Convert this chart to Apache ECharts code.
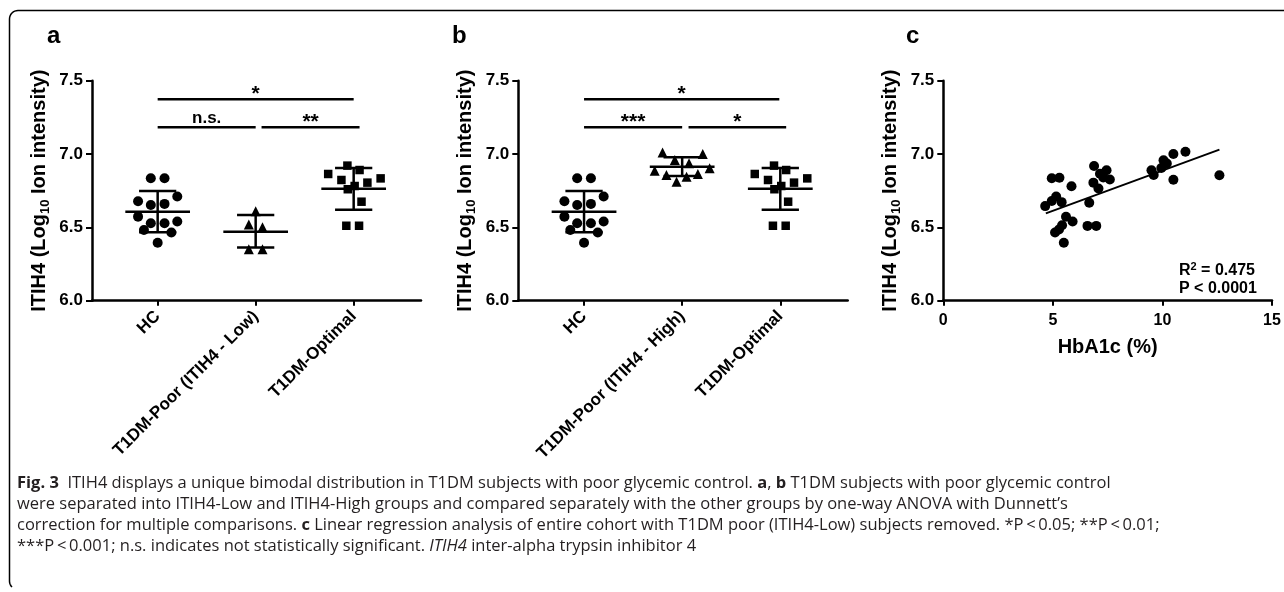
<!DOCTYPE html>
<html><head><meta charset="utf-8">
<script src="https://cdn.jsdelivr.net/npm/echarts@6/dist/echarts.min.js"></script>
<style>html,body{margin:0;padding:0;background:#fff}#c{width:1284px;height:592px}</style>
</head><body><div id="c"></div>
<script>
// ---------- data ----------
const categoriesA = ['HC', 'T1DM-Poor (ITIH4 - Low)', 'T1DM-Optimal'];
const categoriesB = ['HC', 'T1DM-Poor (ITIH4 - High)', 'T1DM-Optimal'];
const yTicks = [6.0, 6.5, 7.0, 7.5];
const xTicksC = [0, 5, 10, 15];

// HC (circles)
const hcValues = [6.835, 6.835, 6.71, 6.678, 6.652, 6.66, 6.573, 6.528, 6.528, 6.54, 6.482, 6.465, 6.395];
const hcJitter = [-0.07, 0.07, 0.2, -0.2, -0.07, 0.07, -0.2, -0.07, 0.07, 0.2, -0.14, 0.14, 0];
// T1DM-Poor ITIH4-Low (triangles)
const lowValues = [6.61, 6.52, 6.50, 6.35, 6.35];
const lowJitter = [0, -0.07, 0.07, -0.07, 0.07];
// T1DM-Poor ITIH4-High (triangles)
const highValues = [7.01, 7.0, 6.959, 6.937, 6.886, 6.903, 6.857, 6.864, 6.845, 6.811];
const highJitter = [-0.2, 0.21, -0.075, 0.07, -0.28, 0.28, -0.16, 0.16, 0.045, -0.057];
// T1DM-Optimal (squares)
const optValues = [6.921, 6.891, 6.864, 6.834, 6.823, 6.805, 6.782, 6.76, 6.675, 6.511, 6.511];
const optJitter = [-0.064, 0.06, -0.26, 0.275, -0.125, 0.14, 0.01, -0.06, 0.08, -0.075, 0.055];

// mean and SD bars
const meanA = [6.607, 6.47, 6.763];
const sdLowA = [6.466, 6.362, 6.62];
const sdHighA = [6.748, 6.585, 6.905];
const meanB = [6.607, 6.914, 6.763];
const sdLowB = [6.466, 6.85, 6.62];
const sdHighB = [6.748, 6.978, 6.905];

// significance brackets (category positions, height, text)
const sigAFrom = [0, 0, 1.06];
const sigATo = [2, 1.0, 2.06];
const sigAY = [7.373, 7.182, 7.182];
const sigAText = ['*', 'n.s.', '**'];
const sigBFrom = [0, 0, 1.065];
const sigBTo = [1.99, 1.0, 2.06];
const sigBY = [7.373, 7.182, 7.182];
const sigBText = ['*', '***', '*'];

// panel c: HbA1c vs ITIH4
const hba1c = [4.65, 4.95, 5.3, 4.95, 5.15, 5.4, 5.1, 5.28, 5.42, 5.5, 5.6, 5.9, 5.85,
               6.66, 6.58, 6.98, 6.88, 6.85, 7.15, 7.45, 7.6, 7.08, 7.3,
               9.5, 9.6, 9.95, 10.05, 10.2, 10.5, 10.5, 11.05, 12.6];
const itih4C = [6.645, 6.835, 6.838, 6.68, 6.71, 6.672, 6.465, 6.485, 6.515, 6.395, 6.572, 6.54, 6.78,
                6.668, 6.51, 6.51, 6.918, 6.805, 6.865, 6.89, 6.826, 6.765, 6.84,
                6.89, 6.857, 6.905, 6.958, 6.935, 7.0, 6.825, 7.015, 6.855];
const regX = [4.68, 12.6];
const regY = [6.595, 7.03];

// ---------- chart ----------
const FONT = '"Liberation Sans", Arial, sans-serif';
const CAP = '"Open Sans", sans-serif';
const CAPSIZE = '16.5px ';
const chart = echarts.init(document.getElementById('c'), null, {renderer: 'canvas'});

const pts = (vals, jit, cat) => vals.map((v, i) => [cat + jit[i], v]);
const errData = (m, lo, hi) => m.map((v, i) => [i, v, lo[i], hi[i]]);
const sigData = (f, t, y) => f.map((v, i) => [v, t[i], y[i]]);

function errRender(params, api) {
  const x = api.value(0), m = api.value(1), lo = api.value(2), hi = api.value(3);
  const st = {stroke: '#000', lineWidth: 2.5};
  const seg = (a, b) => ({type: 'line', shape: {x1: a[0], y1: a[1], x2: b[0], y2: b[1]}, style: st});
  return {type: 'group', children: [
    seg(api.coord([x - 0.33, m]), api.coord([x + 0.33, m])),
    seg(api.coord([x - 0.19, lo]), api.coord([x + 0.19, lo])),
    seg(api.coord([x - 0.19, hi]), api.coord([x + 0.19, hi])),
    seg(api.coord([x, lo]), api.coord([x, hi]))
  ]};
}
function makeSigRender(texts) {
  return function (params, api) {
    const x1 = api.value(0), x2 = api.value(1), y = api.value(2);
    const txt = texts[params.dataIndex];
    const a = api.coord([x1, y]), b = api.coord([x2, y]);
    const isStar = txt.indexOf('*') >= 0;
    return {type: 'group', children: [
      {type: 'line', shape: {x1: a[0], y1: a[1], x2: b[0], y2: b[1]}, style: {stroke: '#000', lineWidth: 2.5}},
      {type: 'text', style: {text: txt, x: (a[0] + b[0]) / 2, y: a[1] + (isStar ? 5 : -1),
        align: 'center', verticalAlign: 'bottom',
        font: 'bold ' + (isStar ? 21 : 17) + 'px ' + FONT, fill: '#000'}}
    ]};
  };
}

function catXAxis(gi, cats) {
  return {
    type: 'value', gridIndex: gi, min: -0.67, max: 2.687,
    axisLine: {show: true, onZero: false, lineStyle: {color: '#000', width: 2.5}},
    axisTick: {show: true, customValues: [0, 1, 2], length: 5, lineStyle: {color: '#000', width: 2}},
    axisLabel: {customValues: [0, 1, 2], formatter: v => cats[Math.round(v)], rotate: 45, margin: 13,
      color: '#000', fontWeight: 'bold', fontSize: 17, fontFamily: FONT},
    splitLine: {show: false}
  };
}
function valYAxis(gi) {
  return {
    type: 'value', gridIndex: gi, min: yTicks[0], max: yTicks[yTicks.length - 1], interval: 0.5,
    name: 'ITIH4 (Log{s|10} Ion intensity)', nameLocation: 'middle', nameGap: 40,
    nameTextStyle: {color: '#000', fontWeight: 'bold', fontSize: 20, fontFamily: FONT,
      rich: {s: {fontSize: 13, fontWeight: 'bold', fontFamily: FONT, color: '#000', verticalAlign: 'bottom', lineHeight: 26}}},
    axisLine: {show: true, onZero: false, lineStyle: {color: '#000', width: 2.5}},
    axisTick: {show: true, length: 6, lineStyle: {color: '#000', width: 2}},
    axisLabel: {formatter: v => v.toFixed(1), margin: 9, color: '#000', fontWeight: 'bold', fontSize: 17, fontFamily: FONT},
    splitLine: {show: false}
  };
}

const scatterBase = {type: 'scatter', itemStyle: {color: '#000', opacity: 1}, z: 3};

// frame (top edge + left edge with rounded corners)
const framePts = [[1284, 10.5]];
for (let k = 0; k <= 8; k++) { const t = Math.PI / 2 * k / 8; framePts.push([18 - 8.5 * Math.sin(t), 19 - 8.5 * Math.cos(t)]); }
for (let k = 0; k <= 6; k++) { const t = Math.PI / 2 * k / 12; framePts.push([18 - 8.5 * Math.cos(t), 581 + 8.5 * Math.sin(t)]); }

const option = {
  backgroundColor: '#fff',
  animation: false,
  grid: [
    {left: 92, top: 80.7, width: 329, height: 220},
    {left: 518.3, top: 80.7, width: 329.4, height: 220},
    {left: 943.3, top: 80.7, width: 328.7, height: 220}
  ],
  xAxis: [
    catXAxis(0, categoriesA),
    catXAxis(1, categoriesB),
    {type: 'value', gridIndex: 2, min: xTicksC[0], max: xTicksC[xTicksC.length - 1], interval: 5,
      name: 'HbA1c (%)', nameLocation: 'middle', nameGap: 37,
      nameTextStyle: {color: '#000', fontWeight: 'bold', fontSize: 20, fontFamily: FONT},
      axisLine: {show: true, onZero: false, lineStyle: {color: '#000', width: 2.5}},
      axisTick: {show: true, length: 5, lineStyle: {color: '#000', width: 2}},
      axisLabel: {margin: 12, color: '#000', fontWeight: 'bold', fontSize: 16, fontFamily: FONT},
      splitLine: {show: false}}
  ],
  yAxis: [valYAxis(0), valYAxis(1), valYAxis(2)],
  series: [
    Object.assign({}, scatterBase, {xAxisIndex: 0, yAxisIndex: 0, symbol: 'circle', symbolSize: 10, data: pts(hcValues, hcJitter, 0)}),
    Object.assign({}, scatterBase, {xAxisIndex: 0, yAxisIndex: 0, symbol: 'triangle', symbolSize: 10, data: pts(lowValues, lowJitter, 1)}),
    Object.assign({}, scatterBase, {xAxisIndex: 0, yAxisIndex: 0, symbol: 'rect', symbolSize: 8.5, data: pts(optValues, optJitter, 2)}),
    {type: 'custom', xAxisIndex: 0, yAxisIndex: 0, renderItem: errRender, data: errData(meanA, sdLowA, sdHighA), z: 4},
    {type: 'custom', xAxisIndex: 0, yAxisIndex: 0, renderItem: makeSigRender(sigAText), data: sigData(sigAFrom, sigATo, sigAY), z: 4},

    Object.assign({}, scatterBase, {xAxisIndex: 1, yAxisIndex: 1, symbol: 'circle', symbolSize: 10, data: pts(hcValues, hcJitter, 0)}),
    Object.assign({}, scatterBase, {xAxisIndex: 1, yAxisIndex: 1, symbol: 'triangle', symbolSize: 10, data: pts(highValues, highJitter, 1)}),
    Object.assign({}, scatterBase, {xAxisIndex: 1, yAxisIndex: 1, symbol: 'rect', symbolSize: 8.5, data: pts(optValues, optJitter, 2)}),
    {type: 'custom', xAxisIndex: 1, yAxisIndex: 1, renderItem: errRender, data: errData(meanB, sdLowB, sdHighB), z: 4},
    {type: 'custom', xAxisIndex: 1, yAxisIndex: 1, renderItem: makeSigRender(sigBText), data: sigData(sigBFrom, sigBTo, sigBY), z: 4},

    Object.assign({}, scatterBase, {xAxisIndex: 2, yAxisIndex: 2, symbol: 'circle', symbolSize: 10, data: hba1c.map((v, i) => [v, itih4C[i]])}),
    {type: 'line', xAxisIndex: 2, yAxisIndex: 2, symbol: 'none', lineStyle: {color: '#000', width: 2}, z: 4,
      data: regX.map((v, i) => [v, regY[i]])}
  ],
  graphic: [
    {type: 'polyline', z: 10, shape: {points: framePts}, style: {stroke: '#000', lineWidth: 1.5, fill: null}},
    {type: 'text', left: 47, top: 24, style: {text: 'a', font: 'bold 24px ' + FONT, fill: '#000'}},
    {type: 'text', left: 452, top: 24, style: {text: 'b', font: 'bold 24px ' + FONT, fill: '#000'}},
    {type: 'text', left: 906, top: 24, style: {text: 'c', font: 'bold 24px ' + FONT, fill: '#000'}},
    {type: 'text', left: 1179, top: 261, style: {text: '{n|R}{p|2}{n| = 0.475}', font: 'bold 16px ' + FONT, fill: '#000',
      rich: {n: {font: 'bold 16px ' + FONT, fill: '#000', lineHeight: 18, verticalAlign: 'bottom'},
             p: {font: 'bold 11px ' + FONT, fill: '#000', lineHeight: 18, verticalAlign: 'top'}}}},
    {type: 'text', left: 1179, top: 281, style: {text: 'P < 0.0001', font: 'bold 16px ' + FONT, fill: '#000'}},
    {type: 'text', left: 17, top: 475, style: {text: '{b|Fig. 3}  ITIH4 displays a unique bimodal distribution in T1DM subjects with poor glycemic control. {b|a}, {b|b} T1DM subjects with poor glycemic control',
      font: CAPSIZE + CAP, fill: '#231f20', rich: {b: {font: 'bold ' + CAPSIZE + CAP, fill: '#231f20'}}}},
    {type: 'text', left: 17, top: 496, style: {text: 'were separated into ITIH4-Low and ITIH4-High groups and compared separately with the other groups by one-way ANOVA with Dunnett\u2019s',
      font: CAPSIZE + CAP, fill: '#231f20'}},
    {type: 'text', left: 17, top: 517, style: {text: 'correction for multiple comparisons. {b|c} Linear regression analysis of entire cohort with T1DM poor (ITIH4-Low) subjects removed. *P\u2009<\u20090.05; **P\u2009<\u20090.01;',
      font: CAPSIZE + CAP, fill: '#231f20', rich: {b: {font: 'bold ' + CAPSIZE + CAP, fill: '#231f20'}}}},
    {type: 'text', left: 17, top: 538, style: {text: '***P\u2009<\u20090.001; n.s. indicates not statistically significant. {i|ITIH4} inter-alpha trypsin inhibitor 4',
      font: CAPSIZE + CAP, fill: '#231f20', rich: {i: {font: 'italic ' + CAPSIZE + CAP, fill: '#231f20'}}}}
  ]
};
chart.setOption(option);
</script></body></html>
